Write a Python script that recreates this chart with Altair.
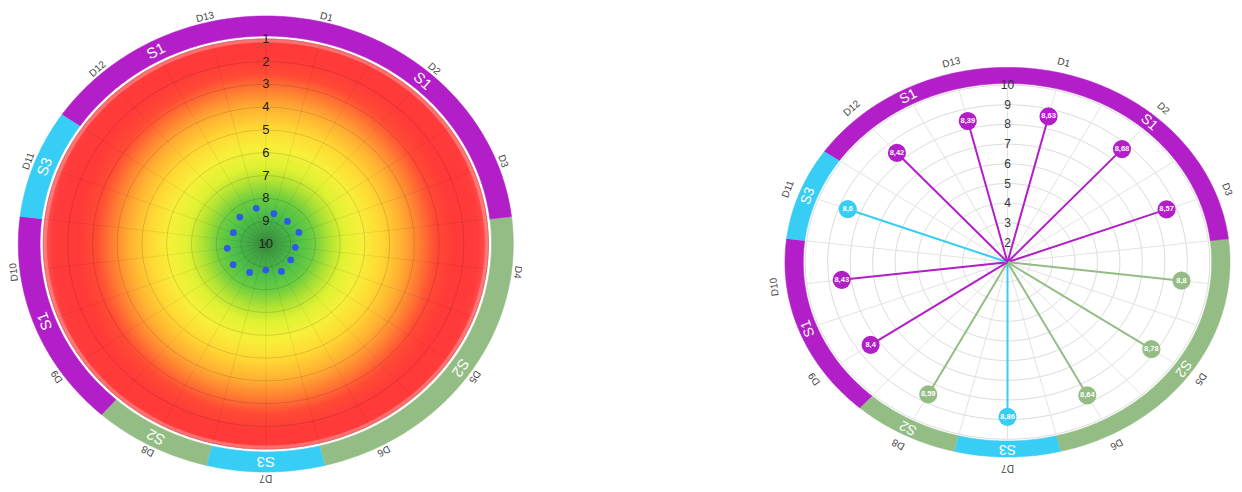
import numpy as np
import pandas as pd
import altair as alt

# ---------------- data ----------------
categories = ["D1", "D2", "D3", "D4", "D5", "D6", "D7", "D8", "D9", "D10", "D11", "D12", "D13"]
groups = ["S1", "S1", "S1", "S2", "S2", "S2", "S3", "S2", "S1", "S1", "S3", "S1", "S1"]
values = [8.63, 8.68, 8.57, 8.80, 8.78, 8.64, 8.86, 8.59, 8.40, 8.43, 8.60, 8.42, 8.39]
group_names = ["S1", "S2", "S3"]
group_colors = ["#b21ec8", "#93bd84", "#38cdf5"]
left_ticks = [1, 2, 3, 4, 5, 6, 7, 8, 9, 10]
right_ticks = [2, 3, 4, 5, 6, 7, 8, 9, 10]

N = len(categories)
STEP = 360.0 / N
FONT = "Liberation Sans"

color_scale = alt.Scale(domain=group_names, range=group_colors)

cat_df = pd.DataFrame({
    "cat": categories, "group": groups, "v": values,
    "deg": [(i + 0.5) * STEP for i in range(N)],
})

# contiguous runs of the same group on the outer band (labels)
runs = []
s = 0
for i in range(1, N + 1):
    if i == N or groups[i] != groups[s]:
        runs.append((groups[s], s, i))
        s = i
run_label_df = pd.DataFrame({
    "group": [r[0] for r in runs],
    "deg": [(r[1] + r[2]) / 2 * STEP for r in runs],
})
# band pieces: join the run that wraps past the top
band_runs = list(runs)
if len(band_runs) > 1 and band_runs[0][0] == band_runs[-1][0]:
    first, last = band_runs[0], band_runs[-1]
    band_runs = band_runs[1:-1] + [(first[0], last[1] - N, first[2])]

ring_rows = []
for j, (g, a, b) in enumerate(band_runs):
    n = 30 * (b - a)
    k = 0
    for q in range(n + 1):
        ring_rows.append({"run": j, "group": g, "k": k, "edge": 1, "deg": (a + (b - a) * q / n) * STEP})
        k += 1
    for q in range(n, -1, -1):
        ring_rows.append({"run": j, "group": g, "k": k, "edge": 0, "deg": (a + (b - a) * q / n) * STEP})
        k += 1
ring_df = pd.DataFrame(ring_rows)


def circle_df(levels):
    rows = []
    for lv in levels:
        for k, d in enumerate(range(0, 361, 2)):
            rows.append({"v": lv, "k": k, "deg": d})
    return pd.DataFrame(rows)


spoke_df = pd.DataFrame({"deg": [j * STEP / 2 for j in range(2 * N)]})
outline_df = circle_df([0])


def xy(xdom, ydom):
    return dict(
        x=alt.X("px:Q", scale=alt.Scale(domain=xdom, nice=False, zero=False), axis=None),
        y=alt.Y("py:Q", scale=alt.Scale(domain=ydom, nice=False, zero=False), axis=None),
    )


def polar(ch, r_expr):
    return ch.transform_calculate(rr=r_expr).transform_calculate(
        px="datum.rr * sin(datum.deg * PI / 180)",
        py="datum.rr * cos(datum.deg * PI / 180)",
        z="0",
    )


ang = alt.Angle("deg:Q", scale=None)
band_fill = alt.Fill("group:N", scale=color_scale, legend=None)
band_stroke = alt.Stroke("group:N", scale=color_scale, legend=None)

# ---------------- left panel ----------------
LX = [-1.04162, 1.03515]
LY = [-1.05263, 1.03509]
L = xy(LX, LY)
left_r = "(10 - datum.v) / 10"

stops = [
    (0.00, "#3a8a3c"), (0.06, "#42a244"), (0.14, "#4cbf4a"), (0.21, "#6ccd40"),
    (0.28, "#aee234"), (0.35, "#e0f233"), (0.43, "#f7f03a"), (0.52, "#ffd834"),
    (0.61, "#ffb032"), (0.69, "#ff7c32"), (0.76, "#ff4a35"), (0.84, "#ff3a38"),
    (0.95, "#ff3b3b"), (1.00, "#ff5a5a"),
]
grad = alt.RadialGradient(
    gradient="radial",
    stops=[alt.GradientStop(offset=o, color=c) for o, c in stops],
    x1=0.5, y1=0.5, r1=0, x2=0.5, y2=0.5, r2=0.5,
)

l_disk = polar(alt.Chart(outline_df), "0.905").mark_line(
    fill=grad, stroke="white", strokeWidth=2, strokeJoin="round"
).encode(**L, order=alt.Order("k:Q"))
l_glow = polar(alt.Chart(outline_df), "0.893").mark_line(
    stroke="#ff9a9a", strokeWidth=4, opacity=0.55, strokeJoin="round"
).encode(**L, order=alt.Order("k:Q"))
l_grid = polar(alt.Chart(circle_df(left_ticks[:-1])), left_r).mark_line(
    stroke="black", strokeOpacity=0.13, strokeWidth=1, strokeJoin="round"
).encode(**L, detail="v:N", order=alt.Order("k:Q"))
l_spokes = polar(alt.Chart(spoke_df), "0.9").mark_rule(
    stroke="black", strokeOpacity=0.07, strokeWidth=1
).encode(**L, x2="z:Q", y2="z:Q")
l_ring = polar(alt.Chart(ring_df), "datum.edge == 1 ? 1.0 : 0.912").mark_line(
    strokeWidth=0.6, strokeJoin="round"
).encode(**L, fill=band_fill, stroke=band_stroke, detail="run:N", order=alt.Order("k:Q"))
l_slab = polar(alt.Chart(run_label_df), "0.956").mark_text(
    color="white", fontSize=15, font=FONT
).encode(**L, text="group:N", angle=ang)
l_dlab = polar(alt.Chart(cat_df), "1.025").mark_text(
    color="#444444", fontSize=10, font=FONT, clip=True
).encode(**L, text="cat:N", angle=ang)
l_axis = polar(alt.Chart(pd.DataFrame({"v": left_ticks, "deg": 0})), left_r).mark_text(
    color="#222222", fontSize=13, font=FONT
).encode(**L, text="v:Q")
l_dots = polar(alt.Chart(cat_df), left_r).mark_circle(
    size=45, color="#2d5be8", opacity=1
).encode(**L)

left = alt.layer(l_disk, l_glow, l_grid, l_spokes, l_ring, l_slab, l_dlab, l_axis, l_dots).properties(
    width=514, height=476
)

# ---------------- right panel ----------------
RX = [-2.12809, 1.01798]
RY = [-1.13860, 1.30493]
R = xy(RX, RY)
right_r = "(datum.v - 1) / 9 * 0.909"

r_grid = polar(alt.Chart(circle_df(right_ticks)), right_r).mark_line(
    stroke="#dcdcdc", strokeWidth=1, strokeJoin="round"
).encode(**R, detail="v:N", order=alt.Order("k:Q"))
r_spokes = polar(alt.Chart(spoke_df), "0.909").mark_rule(
    stroke="#e3e3e3", strokeWidth=1
).encode(**R, x2="z:Q", y2="z:Q")
r_ring = polar(alt.Chart(ring_df), "datum.edge == 1 ? 1.0 : 0.918").mark_line(
    strokeWidth=0.6, strokeJoin="round"
).encode(**R, fill=band_fill, stroke=band_stroke, detail="run:N", order=alt.Order("k:Q"))
r_slab = polar(alt.Chart(run_label_df), "0.959").mark_text(
    color="white", fontSize=14, font=FONT
).encode(**R, text="group:N", angle=ang)
r_dlab = polar(alt.Chart(cat_df), "1.055").mark_text(
    color="#444444", fontSize=10, font=FONT, clip=True
).encode(**R, text="cat:N", angle=ang)
r_axis = polar(alt.Chart(pd.DataFrame({"v": right_ticks, "deg": 0})), right_r).mark_text(
    color="#333333", fontSize=12, font=FONT
).encode(**R, text="v:Q")
r_stems = polar(alt.Chart(cat_df), right_r).mark_rule(strokeWidth=2).encode(
    **R, x2="z:Q", y2="z:Q",
    color=alt.Color("group:N", scale=color_scale, legend=None),
)
r_heads = polar(alt.Chart(cat_df), right_r).mark_circle(size=330, opacity=1).encode(
    **R, color=alt.Color("group:N", scale=color_scale, legend=None)
)
r_vals = polar(alt.Chart(cat_df), right_r).transform_calculate(
    lab="replace(format(datum.v, '.2~f'), '.', ',')"
).mark_text(color="white", fontSize=7.5, fontWeight="bold", font=FONT).encode(**R, text="lab:N")

right = alt.layer(r_grid, r_spokes, r_ring, r_slab, r_dlab, r_axis, r_stems, r_heads, r_vals).properties(
    width=700, height=476
)

chart = alt.hconcat(left, right, spacing=12, padding=0).configure_view(stroke=None)

chart.save("out.html", embed_options={"renderer": "svg", "actions": False})
